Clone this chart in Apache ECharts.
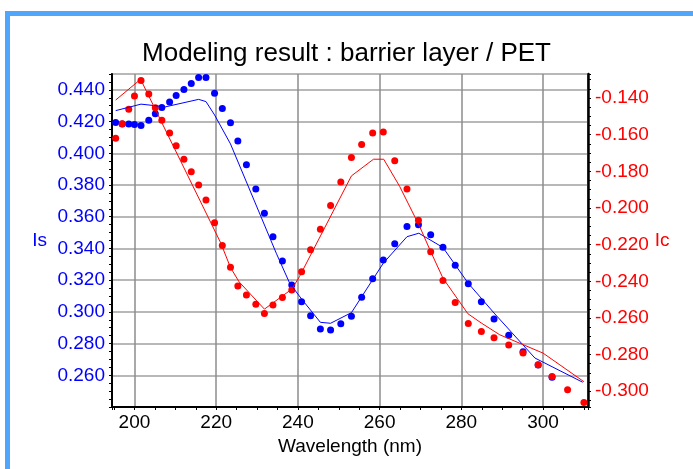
<!DOCTYPE html>
<html>
<head>
<meta charset="utf-8">
<script src="https://cdn.jsdelivr.net/npm/echarts@6/dist/echarts.min.js"></script>
<style>
  html, body { margin: 0; padding: 0; background: #fff; }
  #wrap { position: relative; width: 693px; height: 469px; overflow: hidden; }
  #frame {
    position: absolute; left: 5px; top: 11px; width: 800px; height: 600px;
    border-left: 5px solid #4fa6fb; border-top: 5px solid #4fa6fb;
  }
  #chart { position: absolute; left: 0; top: 0; width: 693px; height: 469px; }
</style>
</head>
<body>
<div id="wrap">
  <div id="frame"></div>
  <div id="chart"></div>
</div>
<script>
// measured points (wavelength in nm)
const wavelength = [195.4, 197.0, 198.6, 200.0, 201.6, 203.5, 205.1, 206.7, 208.6, 210.2,
  212.1, 213.9, 215.7, 217.5, 219.6, 221.5, 223.5, 225.3, 227.4, 229.7,
  231.8, 233.9, 236.2, 238.5, 240.9, 243.1, 245.5, 248.0, 250.5, 253.1,
  255.6, 258.3, 260.9, 263.7, 266.7, 269.5, 272.5, 275.5, 278.5, 281.7,
  284.9, 288.0, 291.6, 295.1, 298.8, 302.2, 306.0, 310.0]
const isMeas = [0.4194, 0.4185, 0.4185, 0.4181, 0.4175, 0.4209, 0.4249, 0.4288, 0.4324, 0.4364,
  0.4402, 0.4440, 0.4478, 0.4478, 0.4379, 0.4282, 0.4192, 0.4078, 0.3927, 0.3774,
  0.3622, 0.3474, 0.3321, 0.3170, 0.3064, 0.2976, 0.2892, 0.2886, 0.2925, 0.2972,
  0.3092, 0.3208, 0.3327, 0.3430, 0.3538, 0.3550, 0.3487, 0.3408, 0.3294, 0.3178,
  0.3064, 0.2955, 0.2852, 0.2749, 0.2665, 0.2587, null, null]
const icMeas = [-0.1619, -0.1541, -0.1461, -0.1389, -0.1305, -0.1378, -0.1453, -0.1521, -0.1591, -0.1660,
  -0.1734, -0.1802, -0.1874, -0.1956, -0.2080, -0.2205, -0.2323, -0.2426, -0.2475, -0.2525,
  -0.2576, -0.2530, -0.2489, -0.2447, -0.2348, -0.2228, -0.2116, -0.1987, -0.1858, -0.1725,
  -0.1654, -0.1591, -0.1585, -0.1743, -0.1897, -0.2067, -0.2239, -0.2396, -0.2516, -0.2630,
  -0.2674, -0.2708, -0.2748, -0.2792, -0.2856, -0.2919, -0.2992, -0.3061]

// model curves
const isFitX = [195.4, 201.6, 207.6, 215.7, 217.5, 219.6, 223.5, 234.7, 238.0, 240.9,
  245.5, 248.0, 253.1, 260.9, 266.7, 269.6, 275.5, 281.7, 288.2, 298.0, 309.7]
const isFit = [0.4269, 0.4310, 0.4293, 0.4340, 0.4326, 0.4242, 0.4059, 0.3370, 0.3180, 0.3081,
  0.2934, 0.2928, 0.2995, 0.3307, 0.3474, 0.3496, 0.3406, 0.3180, 0.2987, 0.2709, 0.2556]
const icFitX = [195.4, 201.5, 221.1, 223.5, 225.6, 231.8, 238.5, 240.4, 253.1, 258.5,
  261.0, 264.9, 269.8, 272.3, 275.5, 281.6, 284.9, 289.4, 300.0, 310.0]
const icFit = [-0.1411, -0.1298, -0.2190, -0.2325, -0.2403, -0.2552, -0.2443, -0.2374, -0.1825, -0.1734,
  -0.1734, -0.1882, -0.2101, -0.2228, -0.2383, -0.2577, -0.2628, -0.2692, -0.2792, -0.2948]

const FONT = 'Liberation Sans'

const pairs = (xs, ys) => xs.map((x, i) => [x, ys[i]]).filter(p => p[1] != null)

const chart = echarts.init(document.getElementById('chart'), null, { renderer: 'canvas' })

const option = {
  animation: false,
  title: {
    text: 'Modeling result : barrier layer / PET',
    left: 'center',
    top: 36,
    textStyle: { fontFamily: FONT, fontSize: 26, fontWeight: 'normal', color: '#000' }
  },
  grid: {
    left: 112, top: 74, width: 476, height: 333,
    show: true, borderColor: '#222', borderWidth: 1.5
  },
  xAxis: {
    type: 'value',
    min: 194.5,
    max: 311,
    minInterval: 20,
    maxInterval: 20,
    name: 'Wavelength (nm)',
    nameLocation: 'middle',
    nameGap: 24,
    nameTextStyle: { fontFamily: FONT, fontSize: 19, color: '#000' },
    axisLine: { lineStyle: { color: '#000', width: 2 } },
    axisTick: { show: true, length: 3, lineStyle: { color: '#000' } },
    minorTick: { show: true, splitNumber: 4, length: 3, lineStyle: { color: '#000' } },
    axisLabel: {
      showMinLabel: false, showMaxLabel: false, margin: 6,
      fontFamily: FONT, fontSize: 19, color: '#000'
    },
    splitLine: { show: true, lineStyle: { color: '#8c8c8c', width: 1.5 } }
  },
  yAxis: [
    {
      type: 'value',
      position: 'left',
      min: 0.24,
      max: 0.45,
      minInterval: 0.02,
      maxInterval: 0.02,
      name: 'Is',
      nameLocation: 'middle',
      nameRotate: 0,
      nameGap: 65,
      nameTextStyle: { fontFamily: FONT, fontSize: 19, color: '#0000ff' },
      axisLine: { show: true, lineStyle: { color: '#000', width: 2 } },
      axisTick: { show: true, length: 3, lineStyle: { color: '#000' } },
      minorTick: { show: true, splitNumber: 4, length: 3, lineStyle: { color: '#000' } },
      axisLabel: {
        showMinLabel: false, showMaxLabel: false, margin: 7,
        fontFamily: FONT, fontSize: 19, color: '#0000ff',
        formatter: v => v.toFixed(3)
      },
      splitLine: { show: true, lineStyle: { color: '#b8b8b8', width: 2 } }
    },
    {
      type: 'value',
      position: 'right',
      min: -0.3086,
      max: -0.1269,
      minInterval: 0.02,
      maxInterval: 0.02,
      name: 'Ic',
      nameLocation: 'middle',
      nameRotate: 0,
      nameGap: 55,
      nameTextStyle: { fontFamily: FONT, fontSize: 19, color: '#ff0000' },
      axisLine: { show: true, lineStyle: { color: '#000', width: 2.5 } },
      axisTick: { show: true, length: 3, lineStyle: { color: '#000' } },
      minorTick: { show: true, splitNumber: 4, length: 3, lineStyle: { color: '#000' } },
      axisLabel: {
        showMinLabel: false, showMaxLabel: false, margin: 7,
        fontFamily: FONT, fontSize: 19, color: '#ff0000',
        formatter: v => v.toFixed(3)
      },
      splitLine: { show: false }
    }
  ],
  series: [
    {
      name: 'Is measured',
      type: 'scatter',
      yAxisIndex: 0,
      symbolSize: 7,
      itemStyle: { color: '#0000ff', opacity: 1 },
      data: pairs(wavelength, isMeas)
    },
    {
      name: 'Ic measured',
      type: 'scatter',
      yAxisIndex: 1,
      symbolSize: 7,
      itemStyle: { color: '#ff0000', opacity: 1 },
      data: pairs(wavelength, icMeas)
    },
    {
      name: 'Is model',
      type: 'line',
      yAxisIndex: 0,
      showSymbol: false,
      lineStyle: { color: '#0000ff', width: 1 },
      data: pairs(isFitX, isFit)
    },
    {
      name: 'Ic model',
      type: 'line',
      yAxisIndex: 1,
      showSymbol: false,
      lineStyle: { color: '#ff0000', width: 1 },
      data: pairs(icFitX, icFit)
    }
  ]
}

chart.setOption(option)
</script>
</body>
</html>
